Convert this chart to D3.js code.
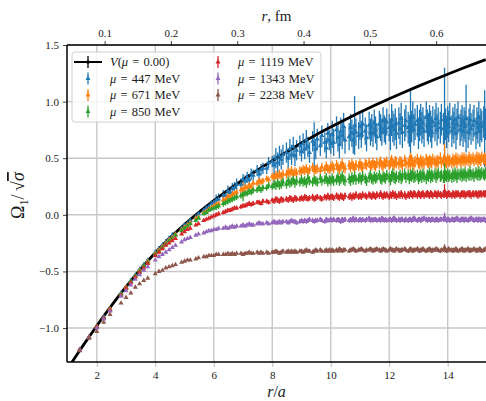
<!DOCTYPE html>
<html>
<head>
<meta charset="utf-8">
<script src="https://cdn.jsdelivr.net/npm/d3@7"></script>
<style>
  body { margin: 0; background: #fff; }
  svg { display: block; font-family: "Liberation Serif", "DejaVu Serif", serif; }
  .tick text { font-size: 11px; fill: #1a1a1a; }
</style>
</head>
<body>
<svg id="chart" width="486" height="401"></svg>
<script>
/* ---- data ---- */

// r^2 (lattice units) of the measured separations
const latticeN2 = [
  1, 2, 3, 4, 5, 6, 8, 9, 10,
  11, 12, 13, 14, 16, 17, 18, 19, 20,
  21, 22, 24, 25, 26, 27, 29, 30,
  32, 33, 34, 35, 36, 37, 38, 40,
  41, 42, 43, 44, 45, 46, 48, 49, 50,
  51, 52, 53, 54, 56, 57, 58, 59,
  61, 62, 64, 65, 66, 67, 68, 69, 70,
  72, 73, 74, 75, 76, 77, 78, 80,
  81, 82, 83, 84, 85, 86, 88, 89, 90,
  91, 93, 94, 96, 97, 98, 99, 100,
  101, 102, 104, 105, 106, 107, 108, 109, 110,
  113, 114, 115, 116, 117, 118, 120,
  121, 122, 123, 125, 126, 128, 129, 130,
  131, 132, 133, 134, 136, 137, 138, 139, 140,
  141, 142, 144, 145, 146, 147, 148, 149, 150,
  152, 153, 154, 155, 157, 158, 160,
  161, 162, 163, 164, 165, 166, 168, 169, 170,
  171, 172, 173, 174, 176, 177, 178, 179, 180,
  181, 182, 184, 185, 186, 187, 189, 190,
  192, 193, 194, 195, 196, 197, 198, 200,
  201, 202, 203, 204, 205, 206, 208, 209, 210,
  211, 212, 213, 214, 216, 217, 218, 219,
  221, 222, 224, 225, 226, 227, 228, 229, 230,
  232, 233, 234
];

const massLabels = ["447", "671", "850", "1119", "1343", "2238"];

const omega447 = [
  -1.36, -1.19, -1.08, -0.99, -0.90, -0.83, -0.69, -0.64, -0.58,
  -0.53, -0.48, -0.44, -0.40, -0.33, -0.30, -0.27, -0.24, -0.21,
  -0.18, -0.17, -0.12, -0.09, -0.08, -0.05, -0.02, 0.01,
  0.04, 0.06, 0.07, 0.10, 0.11, 0.13, 0.14, 0.17,
  0.17, 0.21, 0.20, 0.23, 0.24, 0.27, 0.27, 0.31, 0.30,
  0.33, 0.31, 0.36, 0.35, 0.39, 0.36, 0.40, 0.41,
  0.41, 0.46, 0.47, 0.44, 0.50, 0.46, 0.52, 0.49, 0.53,
  0.55, 0.50, 0.58, 0.53, 0.60, 0.52, 0.57, 0.61,
  0.56, 0.63, 0.58, 0.66, 0.60, 0.55, 0.65, 0.62, 0.58,
  0.67, 0.61, 0.70, 0.64, 0.59, 0.72, 0.66, 0.63,
  0.71, 0.64, 0.75, 0.68, 0.62, 0.74, 0.70, 0.78, 0.66,
  0.69, 0.77, 0.72, 0.66, 0.79, 0.73, 0.70,
  0.78, 0.71, 0.80, 0.74, 0.68, 0.79, 0.73, 0.77,
  0.72, 0.81, 0.75, 0.69, 0.80, 0.77, 0.73, 0.83, 0.76,
  0.74, 0.82, 0.77, 0.71, 0.84, 0.78, 0.75, 0.80, 0.72,
  0.81, 0.76, 0.85, 0.73, 0.79, 0.83, 0.77,
  0.74, 0.82, 0.78, 0.86, 0.75, 0.80, 0.83, 0.72, 0.79,
  0.84, 0.77, 0.81, 0.74, 0.86, 0.79, 0.76, 0.83, 0.78,
  0.73, 0.82, 0.79, 0.85, 0.75, 0.81, 0.77, 0.84,
  0.76, 0.88, 0.80, 0.73, 0.82, 0.78, 0.85, 0.74,
  0.81, 0.77, 0.84, 0.72, 0.80, 0.86, 0.75, 0.79, 0.83,
  0.74, 0.81, 0.78, 0.85, 0.73, 0.80, 0.84, 0.76,
  0.79, 0.83, 0.72, 0.81, 0.77, 0.86, 0.74, 0.80, 0.78,
  0.82, 0.76, 0.80
];

const omega671 = [
  -1.36, -1.19, -1.08, -0.99, -0.91, -0.83, -0.70, -0.64, -0.59,
  -0.54, -0.49, -0.45, -0.41, -0.34, -0.31, -0.28, -0.25, -0.22,
  -0.20, -0.17, -0.13, -0.11, -0.09, -0.07, -0.03, -0.02,
  0.02, 0.03, 0.05, 0.06, 0.08, 0.09, 0.10, 0.13,
  0.14, 0.16, 0.16, 0.18, 0.19, 0.20, 0.22, 0.22, 0.24,
  0.24, 0.26, 0.25, 0.28, 0.28, 0.30, 0.29, 0.30,
  0.32, 0.31, 0.34, 0.33, 0.35, 0.34, 0.36, 0.34, 0.36,
  0.36, 0.38, 0.37, 0.39, 0.36, 0.38, 0.37, 0.39,
  0.38, 0.40, 0.39, 0.41, 0.38, 0.40, 0.42, 0.39, 0.40,
  0.41, 0.39, 0.42, 0.40, 0.43, 0.41, 0.40, 0.42,
  0.43, 0.41, 0.44, 0.42, 0.40, 0.43, 0.45, 0.42, 0.41,
  0.44, 0.42, 0.45, 0.43, 0.41, 0.44, 0.43,
  0.45, 0.43, 0.42, 0.45, 0.44, 0.46, 0.43, 0.44,
  0.46, 0.44, 0.43, 0.46, 0.45, 0.47, 0.44, 0.43, 0.46,
  0.45, 0.47, 0.44, 0.46, 0.48, 0.45, 0.44, 0.47, 0.46,
  0.45, 0.47, 0.46, 0.44, 0.48, 0.46, 0.45,
  0.47, 0.45, 0.48, 0.46, 0.44, 0.47, 0.49, 0.46, 0.45,
  0.48, 0.46, 0.47, 0.45, 0.49, 0.47, 0.46, 0.48, 0.47,
  0.46, 0.49, 0.47, 0.45, 0.48, 0.47, 0.50, 0.46,
  0.48, 0.51, 0.47, 0.46, 0.49, 0.47, 0.48, 0.46,
  0.49, 0.47, 0.48, 0.50, 0.46, 0.49, 0.48, 0.47, 0.50,
  0.48, 0.50, 0.47, 0.49, 0.48, 0.51, 0.47, 0.49,
  0.50, 0.48, 0.49, 0.51, 0.47, 0.50, 0.49, 0.48, 0.51,
  0.49, 0.50, 0.48
];

const omega850 = [
  -1.36, -1.19, -1.08, -0.99, -0.91, -0.84, -0.70, -0.65, -0.59,
  -0.54, -0.50, -0.45, -0.42, -0.35, -0.32, -0.29, -0.26, -0.23,
  -0.21, -0.18, -0.14, -0.12, -0.10, -0.08, -0.05, -0.03,
  0.01, 0.02, 0.04, 0.05, 0.06, 0.07, 0.08, 0.10,
  0.11, 0.12, 0.13, 0.14, 0.15, 0.16, 0.17, 0.18, 0.19,
  0.19, 0.21, 0.20, 0.22, 0.22, 0.24, 0.22, 0.24,
  0.24, 0.26, 0.25, 0.27, 0.26, 0.28, 0.26, 0.27, 0.29,
  0.27, 0.30, 0.28, 0.29, 0.31, 0.28, 0.30, 0.29,
  0.31, 0.29, 0.30, 0.28, 0.32, 0.30, 0.29, 0.31, 0.30,
  0.29, 0.32, 0.30, 0.31, 0.33, 0.29, 0.31, 0.30,
  0.32, 0.30, 0.31, 0.33, 0.30, 0.32, 0.34, 0.31, 0.30,
  0.32, 0.30, 0.33, 0.31, 0.34, 0.31, 0.32,
  0.33, 0.31, 0.34, 0.32, 0.30, 0.33, 0.35, 0.32,
  0.31, 0.34, 0.32, 0.33, 0.35, 0.32, 0.31, 0.34, 0.33,
  0.32, 0.35, 0.33, 0.31, 0.34, 0.36, 0.33, 0.32, 0.34,
  0.33, 0.35, 0.32, 0.34, 0.36, 0.33, 0.35,
  0.32, 0.35, 0.34, 0.36, 0.33, 0.34, 0.35, 0.32, 0.34,
  0.35, 0.33, 0.36, 0.34, 0.32, 0.35, 0.34, 0.37, 0.33,
  0.35, 0.34, 0.36, 0.33, 0.35, 0.37, 0.34, 0.35,
  0.33, 0.38, 0.35, 0.34, 0.36, 0.34, 0.35, 0.33,
  0.36, 0.34, 0.37, 0.35, 0.33, 0.36, 0.35, 0.37, 0.34,
  0.36, 0.35, 0.37, 0.34, 0.36, 0.35, 0.38, 0.35,
  0.36, 0.34, 0.37, 0.36, 0.35, 0.38, 0.35, 0.36, 0.37,
  0.36, 0.35, 0.37
];

const omega1119 = [
  -1.37, -1.19, -1.08, -0.99, -0.91, -0.84, -0.71, -0.65, -0.60,
  -0.55, -0.51, -0.47, -0.43, -0.36, -0.33, -0.30, -0.27, -0.25,
  -0.23, -0.21, -0.17, -0.15, -0.13, -0.12, -0.09, -0.08,
  -0.05, -0.04, -0.03, -0.02, -0.01, 0.00, 0.01, 0.02,
  0.03, 0.04, 0.04, 0.05, 0.06, 0.06, 0.07, 0.08, 0.08,
  0.09, 0.10, 0.09, 0.10, 0.11, 0.11, 0.10, 0.12,
  0.12, 0.11, 0.13, 0.12, 0.14, 0.13, 0.12, 0.14, 0.13,
  0.14, 0.13, 0.15, 0.14, 0.13, 0.15, 0.14, 0.14,
  0.15, 0.14, 0.16, 0.15, 0.14, 0.15, 0.16, 0.14, 0.15,
  0.16, 0.15, 0.14, 0.16, 0.15, 0.17, 0.15, 0.16,
  0.16, 0.15, 0.17, 0.16, 0.15, 0.17, 0.16, 0.15, 0.17,
  0.16, 0.17, 0.15, 0.17, 0.16, 0.18, 0.16,
  0.17, 0.16, 0.18, 0.17, 0.16, 0.18, 0.17, 0.16,
  0.18, 0.17, 0.16, 0.18, 0.17, 0.19, 0.17, 0.16, 0.18,
  0.17, 0.18, 0.16, 0.18, 0.17, 0.19, 0.17, 0.18, 0.16,
  0.18, 0.17, 0.19, 0.17, 0.18, 0.16, 0.18,
  0.17, 0.19, 0.18, 0.17, 0.19, 0.18, 0.17, 0.19, 0.18,
  0.17, 0.18, 0.19, 0.17, 0.18, 0.19, 0.18, 0.17, 0.19,
  0.18, 0.17, 0.19, 0.18, 0.17, 0.19, 0.18, 0.17,
  0.18, 0.21, 0.19, 0.17, 0.18, 0.19, 0.18, 0.17,
  0.19, 0.18, 0.17, 0.19, 0.18, 0.19, 0.17, 0.18, 0.19,
  0.18, 0.19, 0.17, 0.18, 0.19, 0.18, 0.19, 0.17,
  0.19, 0.18, 0.19, 0.18, 0.17, 0.19, 0.18, 0.19, 0.18,
  0.19, 0.18, 0.19
];

const omega1343 = [
  -1.37, -1.19, -1.08, -1.00, -0.92, -0.85, -0.72, -0.67, -0.62,
  -0.57, -0.53, -0.49, -0.46, -0.40, -0.37, -0.35, -0.33, -0.31,
  -0.29, -0.27, -0.24, -0.22, -0.21, -0.20, -0.18, -0.17,
  -0.16, -0.15, -0.14, -0.14, -0.13, -0.13, -0.12, -0.12,
  -0.11, -0.12, -0.11, -0.10, -0.11, -0.10, -0.10, -0.09, -0.10,
  -0.09, -0.08, -0.09, -0.09, -0.08, -0.07, -0.08, -0.08,
  -0.07, -0.08, -0.07, -0.06, -0.07, -0.07, -0.06, -0.07, -0.06,
  -0.06, -0.07, -0.06, -0.05, -0.06, -0.06, -0.07, -0.06,
  -0.05, -0.06, -0.05, -0.06, -0.05, -0.04, -0.05, -0.06, -0.05,
  -0.05, -0.04, -0.05, -0.06, -0.04, -0.05, -0.05, -0.04,
  -0.05, -0.04, -0.05, -0.04, -0.05, -0.06, -0.04, -0.05, -0.04,
  -0.05, -0.04, -0.05, -0.03, -0.05, -0.04, -0.05,
  -0.04, -0.05, -0.04, -0.05, -0.04, -0.03, -0.05, -0.04,
  -0.05, -0.04, -0.04, -0.05, -0.04, -0.05, -0.03, -0.04, -0.05,
  -0.04, -0.05, -0.04, -0.04, -0.05, -0.04, -0.03, -0.04, -0.05,
  -0.04, -0.05, -0.04, -0.04, -0.05, -0.04, -0.05,
  -0.04, -0.04, -0.05, -0.04, -0.03, -0.04, -0.05, -0.04, -0.04,
  -0.05, -0.04, -0.04, -0.03, -0.04, -0.05, -0.04, -0.04, -0.05,
  -0.04, -0.04, -0.05, -0.04, -0.04, -0.05, -0.04, -0.04,
  -0.04, -0.02, -0.04, -0.05, -0.04, -0.04, -0.05, -0.04,
  -0.04, -0.05, -0.04, -0.04, -0.03, -0.04, -0.05, -0.04, -0.04,
  -0.04, -0.05, -0.04, -0.04, -0.05, -0.04, -0.04, -0.03,
  -0.04, -0.05, -0.04, -0.04, -0.05, -0.04, -0.04, -0.05, -0.04,
  -0.04, -0.04, -0.05
];

const omega2238 = [
  -1.38, -1.20, -1.09, -1.03, -0.95, -0.88, -0.78, -0.73, -0.69,
  -0.64, -0.61, -0.58, -0.56, -0.52, -0.50, -0.49, -0.47, -0.46,
  -0.45, -0.44, -0.42, -0.41, -0.40, -0.40, -0.39, -0.38,
  -0.37, -0.37, -0.36, -0.36, -0.36, -0.35, -0.35, -0.35,
  -0.35, -0.34, -0.35, -0.34, -0.35, -0.34, -0.34, -0.35, -0.34,
  -0.34, -0.33, -0.34, -0.34, -0.33, -0.34, -0.33, -0.34,
  -0.33, -0.34, -0.33, -0.33, -0.32, -0.33, -0.34, -0.33, -0.32,
  -0.33, -0.32, -0.33, -0.32, -0.33, -0.32, -0.33, -0.32,
  -0.32, -0.33, -0.32, -0.31, -0.32, -0.32, -0.33, -0.32, -0.31,
  -0.32, -0.31, -0.32, -0.32, -0.31, -0.32, -0.31, -0.32,
  -0.31, -0.32, -0.31, -0.32, -0.30, -0.31, -0.32, -0.31, -0.31,
  -0.32, -0.31, -0.31, -0.30, -0.31, -0.32, -0.31,
  -0.31, -0.30, -0.31, -0.32, -0.31, -0.31, -0.30, -0.31,
  -0.32, -0.31, -0.31, -0.30, -0.31, -0.32, -0.31, -0.30, -0.31,
  -0.31, -0.32, -0.31, -0.30, -0.31, -0.31, -0.32, -0.31, -0.30,
  -0.31, -0.32, -0.31, -0.31, -0.30, -0.31, -0.32,
  -0.31, -0.30, -0.31, -0.32, -0.31, -0.31, -0.30, -0.31, -0.32,
  -0.31, -0.31, -0.30, -0.31, -0.32, -0.31, -0.31, -0.30, -0.31,
  -0.32, -0.31, -0.31, -0.30, -0.31, -0.31, -0.32, -0.31,
  -0.31, -0.29, -0.31, -0.32, -0.31, -0.30, -0.31, -0.31,
  -0.32, -0.31, -0.31, -0.30, -0.31, -0.32, -0.31, -0.31, -0.30,
  -0.31, -0.32, -0.31, -0.31, -0.30, -0.31, -0.32, -0.31,
  -0.31, -0.30, -0.31, -0.32, -0.31, -0.31, -0.30, -0.31, -0.32,
  -0.31, -0.31, -0.30
];

// error-bar half lengths, by distance band (r/a <= edge)
const errEdges = [3, 4, 6, 8, 10, 12, 16];
const err447  = [0.005, 0.012, 0.025, 0.05, 0.09, 0.12, 0.14];
const err671  = [0.004, 0.006, 0.014, 0.028, 0.04, 0.045, 0.05];
const err850  = [0.004, 0.006, 0.014, 0.028, 0.04, 0.045, 0.05];
const err1119 = [0.004, 0.005, 0.01, 0.018, 0.025, 0.028, 0.03];
const err1343 = [0.003, 0.004, 0.008, 0.013, 0.018, 0.02, 0.022];
const err2238 = [0.003, 0.004, 0.006, 0.01, 0.014, 0.016, 0.018];

// a few separations with much larger errors: [r^2, half length]
const spikes447  = [[89, 0.22], [117, 0.26], [162, 0.3], [193, 0.42], [214, 0.3], [233, 0.34]];
const spikes671  = [[49, 0.07], [162, 0.1], [193, 0.12]];
const spikes850  = [[49, 0.06], [193, 0.1]];
const spikes1119 = [[193, 0.06]];
const spikes1343 = [[193, 0.04]];
const spikes2238 = [[193, 0.03]];

// static potential V(mu = 0)
const potentialR = [1.0, 1.41, 1.73, 2.0, 2.45, 3.0, 3.46, 4.0, 4.47, 5.0, 5.48, 6.0, 6.48, 7.0, 7.48,
  8.0, 8.49, 9.0, 9.49, 10.0, 10.49, 11.0, 11.49, 12.0, 12.49, 13.0, 13.49, 14.0, 14.49, 15.0, 15.3];
const potentialV = [-1.36, -1.20, -1.08, -0.98, -0.82, -0.635, -0.49, -0.335, -0.21, -0.085, 0.02, 0.125, 0.216, 0.31, 0.393,
  0.478, 0.556, 0.634, 0.705, 0.775, 0.84, 0.905, 0.965, 1.025, 1.081, 1.137, 1.189, 1.242, 1.292, 1.342, 1.371];

// axes
const xDomain = [0.98, 15.31];
const yDomain = [-1.3, 1.5];
const xTicks = [2, 4, 6, 8, 10, 12, 14];
const yTicks = [-1.0, -0.5, 0.0, 0.5, 1.0, 1.5];
const fmTicks = [0.1, 0.2, 0.3, 0.4, 0.5, 0.6];
const latticeSpacing = 0.0441; // fm

/* ---- chart ---- */
const palette = ["#1f77b4", "#ff7f0e", "#2ca02c", "#d62728", "#9467bd", "#8c564b"];
const W = 486, H = 401;
const margin = { top: 45, right: 0, bottom: 39, left: 67 };

const svg = d3.select("#chart");

const x = d3.scaleLinear().domain(xDomain).range([margin.left, W - margin.right]);
const y = d3.scaleLinear().domain(yDomain).range([H - margin.bottom, margin.top]);
const xfm = d3.scaleLinear().domain(xDomain.map(d => d * latticeSpacing)).range(x.range());

svg.append("clipPath").attr("id", "plot-clip")
  .append("rect")
  .attr("x", margin.left).attr("y", margin.top)
  .attr("width", W - margin.left - margin.right)
  .attr("height", H - margin.top - margin.bottom);

// Grid
const grid = svg.append("g").attr("stroke", "#c8c8c8").attr("stroke-width", 1.4);
xTicks.forEach(t => {
  grid.append("line").attr("x1", x(t)).attr("x2", x(t)).attr("y1", y.range()[1]).attr("y2", y.range()[0]);
});
yTicks.forEach(t => {
  grid.append("line").attr("x1", x.range()[0]).attr("x2", x.range()[1]).attr("y1", y(t)).attr("y2", y(t));
});

const minus = s => s.replace("-", "\u2212");

// Axes
const xAxis = svg.append("g")
  .attr("transform", `translate(0,${y.range()[0]})`)
  .call(d3.axisBottom(x).tickValues(xTicks).tickSize(5).tickPadding(4).tickFormat(d3.format("d")));
const yAxis = svg.append("g")
  .attr("transform", `translate(${x.range()[0]},0)`)
  .call(d3.axisLeft(y).tickValues(yTicks).tickSize(4).tickPadding(4).tickFormat(d => minus(d.toFixed(1))));
const topAxis = svg.append("g")
  .attr("transform", `translate(0,${y.range()[1]})`)
  .call(d3.axisTop(xfm).tickValues(fmTicks).tickSize(4).tickPadding(4).tickFormat(d3.format(".1f")));
[xAxis, yAxis, topAxis].forEach(a => {
  a.select(".domain").remove();
  a.selectAll(".tick line").attr("stroke", "#444");
  a.attr("font-family", null).attr("font-size", null);
});
xAxis.selectAll(".tick line").attr("stroke", "#bbb");

// Data
const plot = svg.append("g").attr("clip-path", "url(#plot-clip)");
const tri = d3.symbol(d3.symbolTriangle, 11);

const seriesValues = [omega447, omega671, omega850, omega1119, omega1343, omega2238];
const seriesErrs = [err447, err671, err850, err1119, err1343, err2238];
const seriesSpikes = [spikes447, spikes671, spikes850, spikes1119, spikes1343, spikes2238];

const series = massLabels.map((m, i) => {
  const pts = latticeN2.map((n, j) => {
    const r = Math.sqrt(n);
    let e = seriesErrs[i][errEdges.findIndex(edge => r <= edge)];
    const sp = seriesSpikes[i].find(p => p[0] === n);
    if (sp) e = sp[1];
    return { r, v: seriesValues[i][j], e };
  }).filter(p => p.v !== undefined);
  return { label: m, color: palette[i], pts };
});

const barLayer = plot.append("g");
const lineLayer = plot.append("g");
const markLayer = plot.append("g");

series.forEach(s => {
  barLayer.append("g")
    .attr("stroke", s.color)
    .attr("stroke-width", 1.3)
    .selectAll("line")
    .data(s.pts)
    .join("line")
    .attr("x1", d => x(d.r)).attr("x2", d => x(d.r))
    .attr("y1", d => y(d.v - d.e)).attr("y2", d => y(d.v + d.e));
});

const potential = potentialR.map((r, i) => ({ r, v: potentialV[i] }));
lineLayer.append("path")
  .datum(potential)
  .attr("fill", "none")
  .attr("stroke", "#000")
  .attr("stroke-width", 2.8)
  .attr("stroke-linejoin", "round")
  .attr("d", d3.line().x(d => x(d.r)).y(d => y(d.v)).curve(d3.curveMonotoneX));

series.forEach(s => {
  markLayer.append("g")
    .attr("fill", s.color)
    .selectAll("path")
    .data(s.pts)
    .join("path")
    .attr("d", tri)
    .attr("transform", d => `translate(${x(d.r)},${y(d.v)})`);
});

// Spines
const spines = svg.append("g").attr("stroke", "#000").attr("stroke-width", 1.5);
spines.append("line").attr("x1", x.range()[0]).attr("x2", x.range()[0]).attr("y1", y.range()[0]).attr("y2", y.range()[1]);
spines.append("line").attr("x1", x.range()[0]).attr("x2", x.range()[1]).attr("y1", y.range()[0]).attr("y2", y.range()[0]);
spines.append("line").attr("x1", x.range()[0]).attr("x2", x.range()[1]).attr("y1", y.range()[1]).attr("y2", y.range()[1]);

// Axis titles
const xTitle = svg.append("text")
  .attr("x", (x.range()[0] + x.range()[1]) / 2).attr("y", 397)
  .attr("text-anchor", "middle").attr("font-size", 16).attr("fill", "#1a1a1a");
xTitle.append("tspan").attr("font-style", "italic").text("r");
xTitle.append("tspan").text("/");
xTitle.append("tspan").attr("font-style", "italic").text("a");

const topTitle = svg.append("text")
  .attr("x", (x.range()[0] + x.range()[1]) / 2).attr("y", 21)
  .attr("text-anchor", "middle").attr("font-size", 15).attr("fill", "#1a1a1a");
topTitle.append("tspan").attr("font-style", "italic").text("r");
topTitle.append("tspan").text(", fm");

const yTitle = svg.append("text")
  .attr("transform", `translate(24,${(y.range()[0] + y.range()[1]) / 2 - 8}) rotate(-90)`)
  .attr("text-anchor", "middle").attr("font-size", 18).attr("fill", "#1a1a1a");
yTitle.append("tspan").text("\u03a9");
yTitle.append("tspan").attr("font-size", 12).attr("dy", 4).text("1");
yTitle.append("tspan").attr("dy", -4).text("/\u2009\u221a");
yTitle.append("tspan").attr("font-style", "italic").style("text-decoration", "overline").text("\u03c3");

// Legend
const legend = svg.append("g");
legend.append("rect")
  .attr("x", 72).attr("y", 52).attr("width", 249).attr("height", 70).attr("rx", 3)
  .attr("fill", "#fff").attr("fill-opacity", 0.8).attr("stroke", "#d0d0d0");

const rowY = [62, 78.5, 95, 111.5];
const legendSlots = [[88, 110, 0], [88, 110, 1], [88, 110, 2], [88, 110, 3], [218, 238, 0], [218, 238, 1], [218, 238, 2]];
const sp = "\u2004";

const addText = (tx, ty, parts) => {
  const t = legend.append("text").attr("x", tx).attr("y", ty + 4).attr("font-size", 12.5).attr("fill", "#1a1a1a");
  parts.forEach(([s, it]) => t.append("tspan").attr("font-style", it ? "italic" : null).text(s));
};

// V entry
{
  const [hx, tx, row] = legendSlots[0];
  const ly = rowY[row];
  legend.append("line").attr("x1", hx - 14).attr("x2", hx + 14).attr("y1", ly).attr("y2", ly)
    .attr("stroke", "#000").attr("stroke-width", 2);
  legend.append("line").attr("x1", hx).attr("x2", hx).attr("y1", ly - 6).attr("y2", ly + 6)
    .attr("stroke", "#000").attr("stroke-width", 1.3);
  legend.append("circle").attr("cx", hx).attr("cy", ly).attr("r", 1.8).attr("fill", "#000");
  addText(tx, ly, [["V", true], ["(", false], ["\u03bc", true], [`${sp}=${sp}0.00)`, false]]);
}
series.forEach((s, i) => {
  const [hx, tx, row] = legendSlots[i + 1];
  const ly = rowY[row];
  legend.append("line").attr("x1", hx).attr("x2", hx).attr("y1", ly - 6).attr("y2", ly + 6)
    .attr("stroke", s.color).attr("stroke-width", 1.3);
  legend.append("path").attr("d", tri).attr("fill", s.color).attr("transform", `translate(${hx},${ly})`);
  addText(tx, ly, [["\u03bc", true], [`${sp}=${sp}${s.label}${sp}MeV`, false]]);
});
</script>
</body>
</html>
